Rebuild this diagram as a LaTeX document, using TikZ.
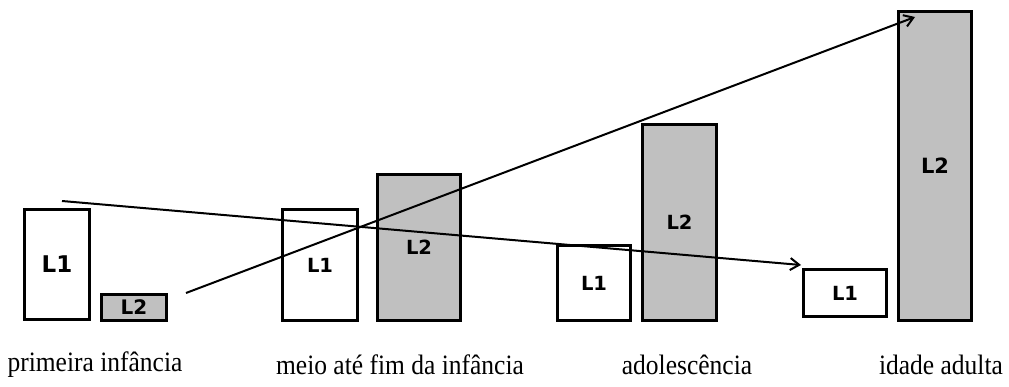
\documentclass[tikz,border=0pt]{standalone}
\usepackage{fontspec}
\setmainfont{Liberation Serif}
\newfontfamily\boxfont{DejaVu Sans}
\usepackage{tikz}
\usetikzlibrary{arrows.meta}
\definecolor{barfill}{RGB}{192,192,192}

\begin{document}
\begin{tikzpicture}[x=1pt, y=-1pt,
  bar/.style={rectangle, draw, line width=3pt, inner sep=0pt,
    font=\boxfont\bfseries\fontsize{19.5}{19.5}\selectfont},
  lone/.style={bar, fill=white},
  ltwo/.style={bar, fill=barfill},
  stage/.style={font=\fontsize{25.5}{26}\selectfont, inner sep=0pt, yscale=1.1},
  every edge/.style={draw, line width=2pt, -{Straight Barb[length=9pt,width=12pt]}}]

  \useasboundingbox (0,0) rectangle (1009,387);

  \node[lone, minimum width=65, minimum height=110, font=\boxfont\bfseries\fontsize{23}{23}\selectfont] (A1) at (57,264.5) {L1};
  \node[ltwo, minimum width=65, minimum height=26, font=\boxfont\bfseries\fontsize{20}{20}\selectfont] (A2) at (134,307.5) {L2};

  \node[lone, minimum width=75, minimum height=111] (B1) at (320,265) {L1};
  \node[ltwo, minimum width=83, minimum height=146] (B2) at (419,247.5) {L2};

  \node[lone, minimum width=73, minimum height=75] (C1) at (594,283) {L1};
  \node[ltwo, minimum width=74, minimum height=196] (C2) at (679.5,222.5) {L2};

  \node[lone, minimum width=83, minimum height=47] (D1) at (845,293) {L1};
  \node[ltwo, minimum width=73, minimum height=309, font=\boxfont\bfseries\fontsize{21}{21}\selectfont] (D2) at (935,166) {L2};

  \coordinate (s1) at (62,201);
  \coordinate (t1) at (801,265);
  \coordinate (s2) at (186,293);
  \coordinate (t2) at (915,17);

  \path (s1) edge (t1);
  \path (s2) edge (t2);

  \node[stage] (ea) at (95,365) {primeira infância};
  \node[stage] (eb) at (400,365) {meio até fim da infância};
  \node[stage] (ec) at (687,365) {adolescência};
  \node[stage] (ed) at (941,365) {idade adulta};

\end{tikzpicture}
\end{document}
